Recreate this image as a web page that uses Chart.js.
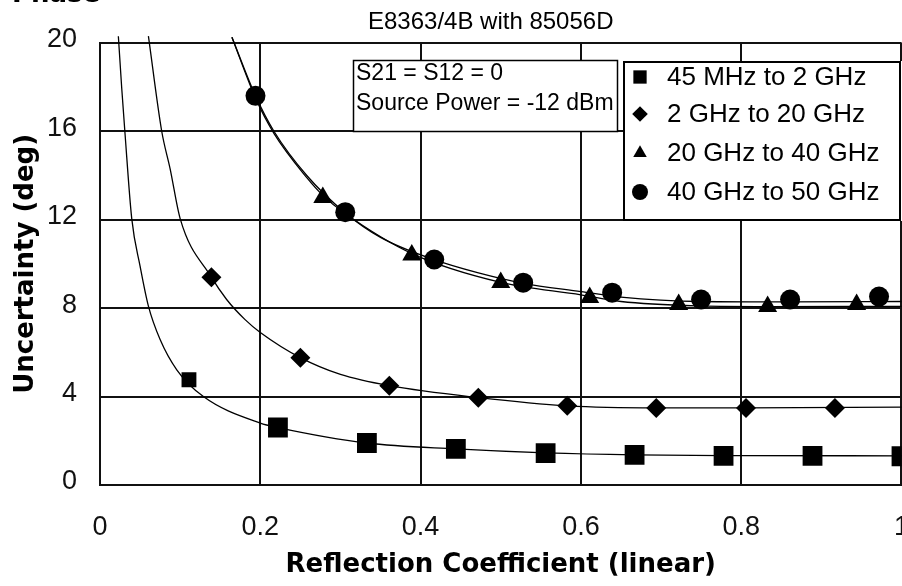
<!DOCTYPE html>
<html><head><meta charset="utf-8">
<script src="https://cdn.jsdelivr.net/npm/chart.js@4/dist/chart.umd.min.js"></script>
<style>html,body{margin:0;padding:0;background:#fff;overflow:hidden}#wrap{width:902px;height:586px;overflow:hidden}canvas{display:block}</style>
</head><body><div id="wrap"><canvas id="c" width="902" height="586"></canvas></div>
<script>
const chartTitle = 'E8363/4B with 85056D';
const cornerText = 'Phase';
const xAxisTitle = 'Reflection Coefficient (linear)';
const yAxisTitle = 'Uncertainty (deg)';
const noteLines = ['S21 = S12 = 0', 'Source Power = -12 dBm'];
const seriesNames = ['45 MHz to 2 GHz', '2 GHz to 20 GHz', '20 GHz to 40 GHz', '40 GHz to 50 GHz'];
const xTicks = [0, 0.2, 0.4, 0.6, 0.8, 1];
const yTicks = [0, 4, 8, 12, 16, 20];

// measured points (markers)
const s1x = [0.111, 0.222, 0.333, 0.444, 0.556, 0.667, 0.778, 0.889, 1.0];
const s1y = [4.76, 2.6, 1.9, 1.63, 1.44, 1.36, 1.32, 1.32, 1.3];
const s2x = [0.139, 0.25, 0.361, 0.472, 0.583, 0.694, 0.806, 0.917];
const s2y = [9.4, 5.76, 4.49, 3.95, 3.58, 3.48, 3.48, 3.48];
const s3x = [0.278, 0.389, 0.5, 0.611, 0.722, 0.833, 0.944];
const s3y = [13.0, 10.4, 9.16, 8.48, 8.16, 8.07, 8.16];
const s4x = [0.194, 0.306, 0.417, 0.528, 0.639, 0.75, 0.861, 0.972];
const s4y = [17.6, 12.34, 10.2, 9.15, 8.7, 8.39, 8.39, 8.52];

// fitted curves
const c1x = [0.0229, 0.027, 0.031, 0.0396, 0.05, 0.0604, 0.075, 0.096, 0.129, 0.2, 0.222, 0.333, 0.444, 0.556, 0.667, 0.8, 1.0];
const c1y = [20.3, 18.0, 16.0, 12.05, 9.9, 8.09, 6.58, 5.2, 4.0, 2.8, 2.6, 1.9, 1.63, 1.45, 1.36, 1.33, 1.32];
const c2x = [0.0604, 0.077, 0.0875, 0.1, 0.139, 0.158, 0.181, 0.2, 0.25, 0.3, 0.361, 0.4725, 0.583, 0.694, 0.806, 1.0];
const c2y = [20.3, 16.0, 14.3, 12.05, 9.4, 8.39, 7.48, 6.9, 5.76, 5.0, 4.49, 3.95, 3.58, 3.49, 3.49, 3.52];
const c3x = [0.1646, 0.194, 0.217, 0.258, 0.278, 0.305, 0.39, 0.5, 0.6, 0.65, 0.75, 0.833, 1.0];
const c3y = [20.25, 17.5, 15.9, 13.9, 13.1, 12.3, 10.45, 9.16, 8.6, 8.3, 8.1, 8.07, 8.08];
const c4x = [0.1646, 0.194, 0.217, 0.258, 0.305, 0.35, 0.416, 0.471, 0.528, 0.6, 0.65, 0.75, 0.861, 1.0];
const c4y = [20.25, 17.6, 16.0, 14.0, 12.34, 11.2, 10.2, 9.6, 9.12, 8.75, 8.5, 8.3, 8.28, 8.3];

const zip = (xs, ys) => xs.map((x, i) => ({x: x, y: ys[i]}));

const SANS = '"Liberation Sans", Arial, sans-serif';
const BOLD = '"DejaVu Sans", "Liberation Sans", sans-serif';

const markerStyles = [
  {pointStyle: 'rect', radius: [10.5, 14, 14, 14, 14, 14, 14, 14, 14], legendRadius: 9.4},
  {pointStyle: 'rectRot', radius: 10, legendRadius: 7.8},
  {pointStyle: 'triangle', radius: 11, legendRadius: 7.8},
  {pointStyle: 'circle', radius: 10, legendRadius: 8}
];
const markerData = [zip(s1x, s1y), zip(s2x, s2y), zip(s3x, s3y), zip(s4x, s4y)];
const curveData = [zip(c1x, c1y), zip(c2x, c2y), zip(c3x, c3y), zip(c4x, c4y)];

function buildDatasets() {
  const datasets = [];
  markerData.forEach((d, i) => {
    datasets.push({
      label: seriesNames[i], data: d, showLine: false, order: 1,
      pointStyle: markerStyles[i].pointStyle, pointRadius: markerStyles[i].radius,
      pointBackgroundColor: '#000', pointBorderWidth: 0, pointBorderColor: '#000'
    });
  });
  curveData.forEach((d, i) => {
    datasets.push({
      label: 'fit ' + seriesNames[i], data: d, showLine: true, order: 2,
      borderColor: '#000', borderWidth: 1.3, pointRadius: 0,
      cubicInterpolationMode: 'monotone', clip: {left: 0, top: 9, right: 2, bottom: 0}
    });
  });
  return datasets;
}

const overlay = {
  id: 'overlay',
  afterLayout(chart) {
    // shift the title block a little to the left, as in the reference
    const tb = chart.titleBlock;
    if (tb) { tb.left -= 20; }
  },
  beforeDatasetsDraw(chart) {
    const ctx = chart.ctx;
    ctx.save();
    ctx.fillStyle = '#fff';
    ctx.fillRect(353, 60, 265, 72);
    ctx.strokeStyle = '#000';
    ctx.lineWidth = 1.5;
    ctx.strokeRect(353.5, 60.5, 264, 71);
    ctx.fillStyle = '#000';
    ctx.font = '23px ' + SANS;
    ctx.textBaseline = 'middle';
    ctx.textAlign = 'left';
    ctx.fillText(noteLines[0], 356, 74);
    ctx.fillText(noteLines[1], 356, 104);
    ctx.fillStyle = '#fff';
    ctx.fillRect(623, 61, 300, 160);
    ctx.lineWidth = 2;
    ctx.strokeRect(624, 62, 276, 158);
    ctx.font = '26px ' + SANS;
    const rows = [77, 114, 153, 192];
    for (let i = 0; i < 4; i++) {
      ctx.fillStyle = '#000';
      Chart.helpers.drawPoint(ctx, {pointStyle: markerStyles[i].pointStyle, radius: markerStyles[i].legendRadius, rotation: 0, borderWidth: 0}, 640, rows[i]);
      ctx.fillStyle = '#000';
      ctx.fillText(chart.data.datasets[i].label, 667, rows[i] + 1);
    }
    ctx.restore();
  },
  afterDraw(chart) {
    const ctx = chart.ctx;
    ctx.save();
    ctx.fillStyle = '#000';
    ctx.font = 'bold 26px ' + BOLD;
    ctx.textBaseline = 'alphabetic';
    ctx.textAlign = 'left';
    ctx.fillText(cornerText, 12, 2);
    ctx.restore();
  }
};

function makeChart(canvas) {
  return new Chart(canvas, {
    type: 'scatter',
    data: {datasets: buildDatasets()},
    plugins: [overlay],
    options: {
      responsive: false, animation: false, devicePixelRatio: 1,
      layout: {padding: {left: 0, right: 1, top: 0, bottom: 0}},
      plugins: {
        legend: {display: false}, tooltip: {enabled: false},
        title: {display: true, text: chartTitle, fullSize: false, color: '#000',
          font: {family: SANS, size: 24, weight: 'normal'}, padding: {top: 8, bottom: 6}}
      },
      scales: {
        x: {
          type: 'linear', min: 0, max: 1,
          afterBuildTicks: s => { s.ticks = xTicks.map(v => ({value: v})); },
          afterFit: s => { s.height = 101; },
          grid: {color: '#111', lineWidth: 2, drawTicks: false},
          border: {color: '#111', width: 2},
          ticks: {color: '#111', padding: 26, font: {family: SANS, size: 27}, maxRotation: 0,
            callback: v => String(v)},
          title: {display: true, text: xAxisTitle, color: '#000',
            font: {family: BOLD, size: 26, weight: 'bold'}, padding: {top: 0, bottom: 5}}
        },
        y: {
          type: 'linear', min: 0, max: 20,
          afterBuildTicks: s => { s.ticks = yTicks.map(v => ({value: v})); },
          afterFit: s => { s.width = 100; },
          grid: {color: '#111', lineWidth: 2, drawTicks: false},
          border: {color: '#111', width: 2},
          ticks: {color: '#111', padding: 23, labelOffset: -3, font: {family: SANS, size: 27},
            callback: v => String(v)},
          title: {display: true, text: yAxisTitle, color: '#000',
            font: {family: BOLD, size: 26, weight: 'bold'}, padding: {top: 11, bottom: 0}}
        }
      }
    }
  });
}

const cv = document.getElementById('c');
let chart = makeChart(cv);
const extra = Math.round(901 - chart.chartArea.right);
if (extra !== 0) {
  chart.destroy();
  cv.width = 902 + extra;
  cv.height = 586;
  cv.style.width = (902 + extra) + 'px';
  cv.style.height = '586px';
  chart = makeChart(cv);
}
</script></body></html>
